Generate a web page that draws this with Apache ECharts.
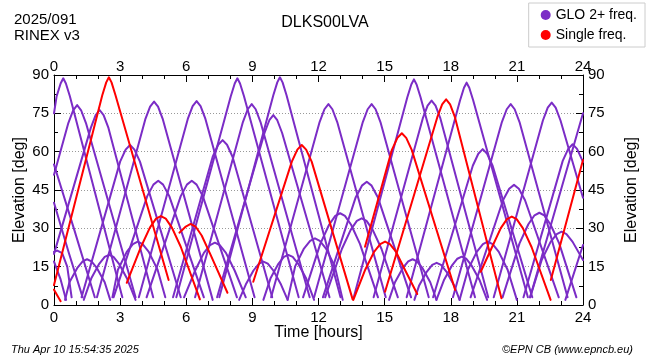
<!DOCTYPE html>
<html><head><meta charset="utf-8">
<script src="https://cdn.jsdelivr.net/npm/echarts/dist/echarts.min.js"></script>
<style>html,body{margin:0;padding:0;background:#fff}#c{width:650px;height:360px}</style>
</head><body><div id="c"></div>
<script>
// Tick labels
const hourTicks = [0, 3, 6, 9, 12, 15, 18, 21, 24];
const elevTicks = [0, 15, 30, 45, 60, 75, 90];

// Multi-frequency GLONASS passes: [hour, elevation]
const glo2Arcs = [
  [[0,55],[0.9,30],[1.85,3]],
  [[0,40],[0.65,21],[1.3,3]],
  [[0,17],[0.3,10],[0.55,2]],
  [[0,20.8],[0.15,21.3],[0.37,20.3],[0.6,15],[0.8,3]],
  [[0,75],[0.12,81.7],[0.3,86.7],[0.42,88.7],[0.54,86.7],[0.72,81.7],[3.1,3]],
  [[0,51],[0.65,71.2],[0.87,76.2],[1.05,78.2],[1.23,76.2],[1.45,71.2],[3.7,3]],
  [[0,20],[1.67,69.3],[1.89,74.3],[2.07,76.3],[2.25,74.3],[2.47,69.3],[4.5,3]],
  [[0.5,2],[0.7,8.9],[1.05,14.4],[1.3,17.1],[1.5,17.9],[1.7,17.1],[1.95,14.4],[2.3,8.9],[2.55,2]],
  [[1.35,2],[1.7,10.6],[2.05,16.1],[2.3,18.8],[2.5,19.6],[2.7,18.8],[2.95,16.1],[3.3,10.6],[3.7,2]],
  [[1.25,3],[3.0,56.1],[3.25,60.8],[3.45,62.6],[3.65,60.8],[3.9,56.1],[5.75,3]],
  [[2.65,3],[2.9,13.8],[3.3,20.8],[3.58,23.8],[3.8,24.8],[4.02,23.8],[4.3,20.8],[4.7,13.8],[5.05,3]],
  [[1.95,3],[4.14,72.6],[4.36,77.6],[4.54,79.6],[4.72,77.6],[4.94,72.6],[7.2,2]],
  [[2.7,3],[4.23,42.6],[4.51,47.1],[4.73,48.6],[4.95,47.1],[5.23,42.6],[6.8,3]],
  [[3.85,3],[6.07,72.8],[6.29,77.8],[6.47,79.8],[6.65,77.8],[6.87,72.8],[9.1,3]],
  [[4.2,3],[5.75,42.6],[6.03,47.1],[6.25,48.6],[6.47,47.1],[6.75,42.6],[8.3,3]],
  [[5.9,3],[6.4,13.4],[6.8,20.4],[7.08,23.4],[7.3,24.4],[7.52,23.4],[7.8,20.4],[8.2,13.4],[8.7,3]],
  [[5.4,3],[7.2,58],[7.45,62.7],[7.65,64.5],[7.85,62.7],[8.1,58],[9.9,3]],
  [[5.55,3],[8.02,81.7],[8.2,86.7],[8.32,88.7],[8.44,86.7],[8.62,81.7],[11.1,3]],
  [[8.4,2],[8.7,8],[9.05,13.5],[9.3,16.2],[9.5,17],[9.7,16.2],[9.95,13.5],[10.3,8],[10.6,2]],
  [[6.4,3],[8.57,71.6],[8.79,76.6],[8.97,78.6],[9.15,76.6],[9.37,71.6],[11.6,3]],
  [[7.4,3],[9.55,67.3],[9.77,72.3],[9.95,74.3],[10.13,72.3],[10.35,67.3],[12.5,3]],
  [[7.5,3],[9.95,82.1],[10.13,87.1],[10.25,89.1],[10.37,87.1],[10.55,82.1],[13.0,3]],
  [[9.5,2],[9.83,10.6],[10.18,16.1],[10.43,18.8],[10.63,19.6],[10.83,18.8],[11.08,16.1],[11.43,10.6],[11.8,2]],
  [[10.6,2],[10.94,15.1],[11.34,22.1],[11.62,25.1],[11.84,26.1],[12.06,25.1],[12.34,22.1],[12.74,15.1],[13.1,2]],
  [[9.85,3],[12.05,71.6],[12.27,76.6],[12.45,78.6],[12.63,76.6],[12.85,71.6],[15.05,3]],
  [[11.3,3],[12.08,23.9],[12.48,31.4],[12.76,34.9],[12.98,35.9],[13.2,34.9],[13.48,31.4],[13.88,23.9],[14.7,3]],
  [[12.3,3],[13.06,21.9],[13.46,29.4],[13.74,32.9],[13.96,33.9],[14.18,32.9],[14.46,29.4],[14.86,21.9],[15.6,3]],
  [[12.2,3],[13.69,42.2],[13.97,46.7],[14.19,48.2],[14.41,46.7],[14.69,42.2],[16.2,3]],
  [[11.8,3],[14.01,71.6],[14.23,76.6],[14.41,78.6],[14.59,76.6],[14.81,71.6],[17.0,3]],
  [[15.2,2],[15.47,8.9],[15.82,14.4],[16.07,17.1],[16.27,17.9],[16.47,17.1],[16.72,14.4],[17.07,8.9],[17.35,2]],
  [[13.6,3],[16.03,81.3],[16.21,86.3],[16.33,88.3],[16.45,86.3],[16.63,81.3],[19.1,3]],
  [[14.5,3],[16.73,73],[16.95,78],[17.13,80],[17.31,78],[17.53,73],[19.7,3]],
  [[16.35,2],[16.56,7.5],[16.91,13],[17.16,15.7],[17.36,16.5],[17.56,15.7],[17.81,13],[18.16,7.5],[18.4,2]],
  [[17.35,2],[17.7,9.9],[18.05,15.4],[18.3,18.1],[18.5,18.9],[18.7,18.1],[18.95,15.4],[19.3,9.9],[19.65,2]],
  [[16.0,3],[18.42,80],[18.6,85],[18.72,87],[18.84,85],[19.02,80],[21.5,3]],
  [[17.2,3],[19.0,54.5],[19.25,59.2],[19.45,61],[19.65,59.2],[19.9,54.5],[21.7,3]],
  [[18.4,2],[18.78,13.8],[19.18,20.8],[19.46,23.8],[19.68,24.8],[19.9,23.8],[20.18,20.8],[20.58,13.8],[21.0,2]],
  [[18.1,3],[20.32,71.6],[20.54,76.6],[20.72,78.6],[20.9,76.6],[21.12,71.6],[23.3,3]],
  [[18.9,3],[20.37,41],[20.65,45.5],[20.87,47],[21.09,45.5],[21.37,41],[22.9,3]],
  [[20.35,3],[21.12,24.1],[21.52,31.6],[21.8,35.1],[22.02,36.1],[22.24,35.1],[22.52,31.6],[22.92,24.1],[23.7,3]],
  [[21.6,3],[22.13,17.7],[22.53,24.7],[22.81,27.7],[23.03,28.7],[23.25,27.7],[23.53,24.7],[24,17.6]],
  [[19.95,3],[22.18,72.2],[22.4,77.2],[22.58,79.2],[22.76,77.2],[22.98,72.2],[24,42]],
  [[21.3,3],[23.08,56.4],[23.33,61.1],[23.53,62.9],[23.73,61.1],[24,56]],
  [[21.6,3],[24,75]],
  [[23.2,2],[24,23.5]]
];

// Single-frequency passes: [hour, elevation]
const singleArcs = [
  [[0,6],[0.3,1.5]],
  [[0,7.8],[2.19,82.1],[2.37,87.1],[2.49,89.1],[2.61,87.1],[2.79,82.1],[5.2,9.8]],
  [[3.3,8.7],[3.95,22.8],[4.35,30.3],[4.63,33.8],[4.85,34.8],[5.07,33.8],[5.35,30.3],[5.75,22.8],[6.62,2.2]],
  [[5.69,28.3],[5.98,30.7],[6.2,31.7],[6.42,30.7],[6.7,27.2],[7.1,19.7],[7.87,4.8]],
  [[9.04,9.1],[10.79,56.1],[11.04,60.8],[11.24,62.6],[11.44,60.8],[11.69,56.1],[13.55,2.2]],
  [[13.58,2],[14.12,13.8],[14.52,20.8],[14.8,23.8],[15.02,24.8],[15.24,23.8],[15.52,20.8],[15.92,13.8],[16.48,4.3]],
  [[14.11,22.8],[15.33,60.7],[15.58,65.4],[15.78,67.2],[15.98,65.4],[16.23,60.7],[18.2,5.9]],
  [[15.02,5.2],[17.39,73.5],[17.61,78.5],[17.79,80.5],[17.97,78.5],[18.19,73.5],[20.3,2.6]],
  [[19.36,13],[19.87,22.6],[20.27,30.1],[20.55,33.6],[20.77,34.6],[20.99,33.6],[21.27,30.1],[21.67,22.6],[22.53,2]],
  [[22.54,9.8],[24,56.7]]
];

const PURPLE = '#7b2cc6';
const RED = '#ff0000';
const FONT = '"Liberation Sans", Arial, sans-serif';

function mk(arc, name, color) {
  return {
    type: 'line', name: name, data: arc, showSymbol: false, symbol: 'none',
    smooth: false,
    lineStyle: { color: color, width: 2, join: 'round', cap: 'round' }, itemStyle: { color: color },
    silent: true, animation: false, z: color === RED ? 3 : 2
  };
}
const series = [];
glo2Arcs.forEach(a => series.push(mk(a, 'GLO 2+ freq.', PURPLE)));
singleArcs.forEach(a => series.push(mk(a, 'Single freq.', RED)));

const labelStyle = { color: '#000', fontSize: 15, fontFamily: FONT };
function xAxis(pos) {
  return {
    type: 'value', position: pos, min: 0, max: 24, interval: 3,
    axisLine: { show: true, onZero: false, lineStyle: { color: '#000', width: 1 } },
    axisTick: { show: true, inside: true, length: 7, lineStyle: { color: '#000' } },
    minorTick: { show: true, splitNumber: 3, length: 4, lineStyle: { color: '#000' } },
    splitLine: { show: false },
    axisLabel: Object.assign({ margin: pos === 'top' ? 1 : 5, formatter: v => hourTicks.includes(v) ? String(v) : '' }, labelStyle),
    name: pos === 'bottom' ? 'Time [hours]' : '', nameLocation: 'middle', nameGap: 20,
    nameMoveOverlap: false,
    nameTextStyle: { color: '#000', fontSize: 16, fontFamily: FONT }
  };
}
function yAxis(pos) {
  return {
    type: 'value', position: pos, min: 0, max: 90, interval: 15,
    axisLine: { show: true, onZero: false, lineStyle: { color: '#000', width: 1 } },
    axisTick: { show: true, inside: true, length: 7, lineStyle: { color: '#000' } },
    minorTick: { show: true, splitNumber: 2, length: 4, lineStyle: { color: '#000' } },
    splitLine: { show: pos === 'left', lineStyle: { color: '#999', type: [1, 2], width: 1 } },
    axisLabel: Object.assign({ margin: 5, formatter: v => elevTicks.includes(v) ? String(v) : '' }, labelStyle),
    name: 'Elevation [deg]', nameLocation: 'middle', nameGap: pos === 'left' ? 26 : 41,
    nameMoveOverlap: false,
    nameTextStyle: { color: '#000', fontSize: 16, fontFamily: FONT }
  };
}

const chart = echarts.init(document.getElementById('c'), null, { renderer: 'canvas' });
chart.setOption({
  animation: false,
  backgroundColor: '#fff',
  textStyle: { fontFamily: FONT },
  title: [
    { text: 'DLKS00LVA', left: 'center', top: 10, textStyle: { fontSize: 16, fontWeight: 'normal', color: '#000', fontFamily: FONT } },
    { text: '2025/091\nRINEX v3', left: 9, top: 7, textStyle: { fontSize: 15, lineHeight: 16, fontWeight: 'normal', color: '#000', fontFamily: FONT } },
    { text: 'Thu Apr 10 15:54:35 2025', left: 6, top: 339, textStyle: { fontSize: 11, fontStyle: 'italic', fontWeight: 'normal', color: '#000', fontFamily: FONT } },
    { text: '©EPN CB (www.epncb.eu)', right: 12, top: 339, textStyle: { fontSize: 11, fontStyle: 'italic', fontWeight: 'normal', color: '#000', fontFamily: FONT } }
  ],
  legend: {
    orient: 'vertical', right: 5, top: 3, itemWidth: 10, itemHeight: 10, itemGap: 6,
    padding: [5, 8, 5, 12], borderColor: '#ccc', borderWidth: 1,
    textStyle: { fontSize: 14, color: '#000', fontFamily: FONT },
    data: [{ name: 'GLO 2+ freq.', icon: 'circle', itemStyle: { color: PURPLE } },
           { name: 'Single freq.', icon: 'circle', itemStyle: { color: RED } }],
    selectedMode: false
  },
  grid: { left: 54, right: 67, top: 75, bottom: 55, containLabel: false },
  xAxis: [xAxis('bottom'), xAxis('top')],
  yAxis: [yAxis('left'), yAxis('right')],
  series: series
});
</script></body></html>
